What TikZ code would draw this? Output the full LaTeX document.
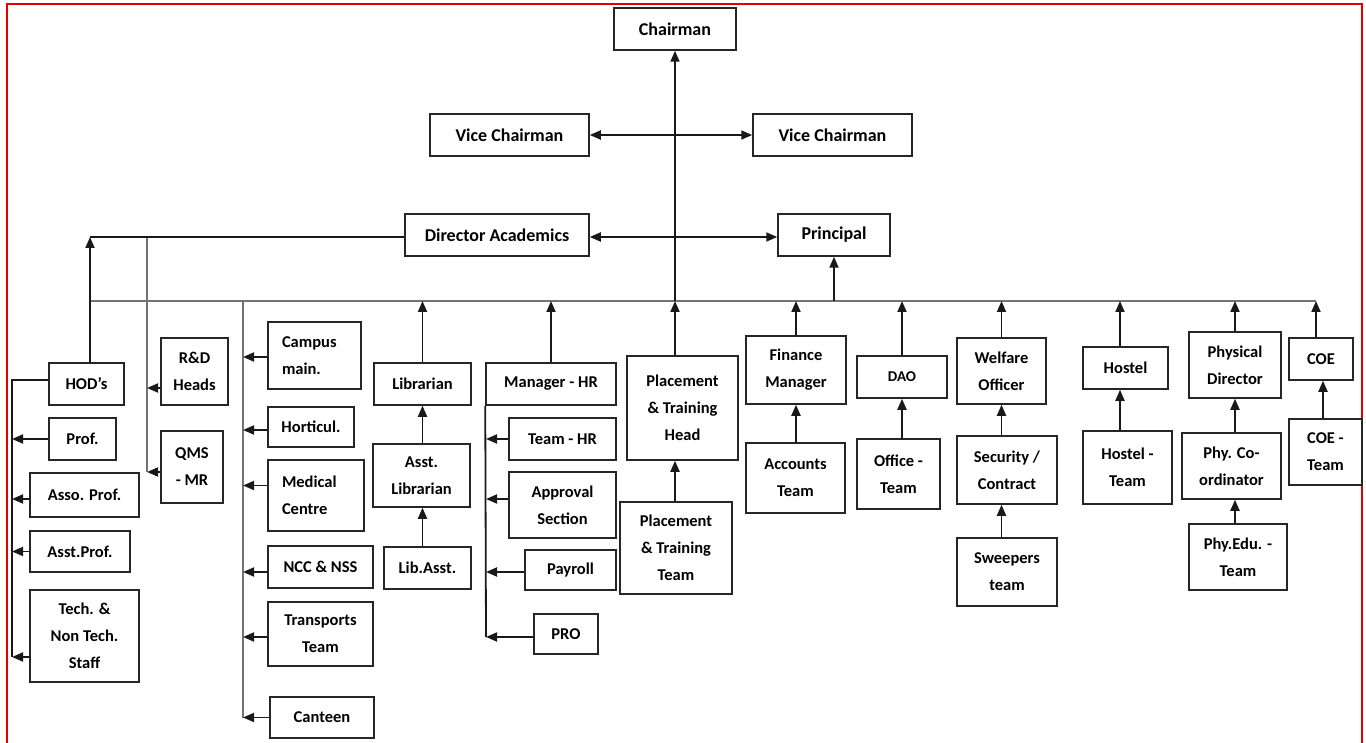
\documentclass[tikz,border=0pt]{standalone}
\usepackage{fontspec}
\setmainfont{Carlito}
\usetikzlibrary{arrows.meta}
\tikzset{
 box/.style={draw=black!85, line width=1.5pt, inner sep=0pt, align=center, fill=white,
   font=\bfseries\fontsize{16.5}{27}\selectfont},
 top/.style={font=\bfseries\fontsize{18}{22}\selectfont},
 conn/.style={line width=1.8pt, draw=black!90},
 arr/.style={conn, -{Triangle[length=11pt,width=9pt]}},
 darr/.style={conn, {Triangle[length=11pt,width=9pt]}-{Triangle[length=11pt,width=9pt]}},
 busline/.style={line width=1.5pt, draw=black!55},
}
\newcommand\bx[7][]{\node[box,minimum width={(#5-#3)*1pt},minimum height={(#6-#4)*1pt},#1] (#2) at ({(#3+#5)/2},{(#4+#6)/2}) {#7};}
\begin{document}
\begin{tikzpicture}[x=1pt,y=-1pt]
\useasboundingbox (0,0) rectangle (1366,743);
\fill[white] (0,0) rectangle (1366,743);
\draw[red!90!black, line width=2pt] (7,750) -- (7,4) -- (1362,4) -- (1362,750);

% coordinates
\coordinate (busL) at (90,301);
\coordinate (busR) at (1316,301);
\coordinate (daL) at (90,237);
\coordinate (v1t) at (147,237);
\coordinate (v1b) at (147,472);
\coordinate (v2t) at (243,301);
\coordinate (v2b) at (243,718);
\coordinate (lbot) at (12,657);
\coordinate (hrb) at (486,637);
\coordinate (hx) at (1120,0);
\coordinate (cx) at (1323,0);

\draw[busline] (busL) -- (busR);
\draw[busline] (v1t) -- (v1b);
\draw[busline] (v2t) -- (v2b);

% top
\bx[top]{chair}{614}{8}{736}{50}{Chairman}
\bx[top]{vcl}{430}{114}{589}{156}{Vice Chairman}
\bx[top]{vcr}{753}{114}{912}{156}{Vice Chairman}
\bx[top]{da}{405}{214}{589}{256}{Director Academics}
\bx[top]{pr}{778}{214}{890}{256}{Principal}

% left
\bx{hod}{49}{363}{124}{405}{HOD’s}
\bx{prof}{49}{418}{116}{460}{Prof.}
\bx{asso}{30}{473}{139}{517}{Asso. Prof.}
\bx{asst}{30}{531}{130}{572}{Asst.Prof.}
\bx{tech}{30}{590}{139}{682}{Tech. \&\\Non Tech.\\Staff}
\bx{rd}{161}{338}{228}{405}{R\&D\\Heads}
\bx{qms}{161}{431}{223}{503}{QMS\\- MR}
\bx[align=left,text width=65pt,inner xsep=14pt]{camp}{268}{322}{361}{389}{Campus\\main.}
\bx{hort}{268}{407}{354}{447}{Horticul.}
\bx[align=left,text width=68pt,inner xsep=14pt]{med}{268}{460}{364}{531}{Medical\\Centre}
\bx{ncc}{268}{546}{373}{588}{NCC \& NSS}
\bx{trans}{268}{602}{373}{666}{Transports\\Team}
\bx{cant}{270}{697}{374}{738}{Canteen}

% library, HR, placement
\bx{lib}{374}{363}{471}{405}{Librarian}
\bx{alib}{373}{444}{470}{507}{Asst.\\Librarian}
\bx{libasst}{384}{547}{471}{589}{Lib.Asst.}
\bx{mhr}{486}{363}{616}{405}{Manager - HR}
\bx{thr}{509}{418}{616}{460}{Team - HR}
\bx{appr}{509}{472}{616}{538}{Approval\\Section}
\bx{pay}{525}{550}{616}{590}{Payroll}
\bx{pro}{534}{614}{598}{654}{PRO}
\bx{pth}{627}{356}{738}{460}{Placement\\\& Training\\Head}
\bx{ptt}{620}{502}{732}{594}{Placement\\\& Training\\Team}

% right
\bx{fm}{746}{336}{846}{404}{Finance\\Manager}
\bx{acc}{746}{443}{845}{513}{Accounts\\Team}
\bx[font=\bfseries\fontsize{15}{20}\selectfont]{dao}{857}{356}{947}{398}{DAO}
\bx{off}{857}{439}{940}{509}{Office -\\Team}
\bx{wel}{957}{338}{1046}{404}{Welfare\\Officer}
\bx{sec}{957}{436}{1057}{504}{Security /\\Contract}
\bx{swp}{957}{538}{1057}{606}{Sweepers\\team}
\bx{hos}{1083}{347}{1168}{389}{Hostel}
\bx{host}{1083}{431}{1172}{504}{Hostel -\\Team}
\bx{pd}{1189}{332}{1281}{398}{Physical\\Director}
\bx{pc}{1182}{433}{1281}{499}{Phy. Co-\\ordinator}
\bx{pe}{1189}{524}{1287}{590}{Phy.Edu. -\\Team}
\bx{coe}{1289}{338}{1353}{380}{COE}
\bx{coet}{1289}{419}{1362}{485}{COE -\\Team}

% top connectors
\draw[arr] (chair.south |- busL) -- (chair.south);
\draw[darr] (vcl.east) -- (vcr.west);
\draw[darr] ([yshift=-2pt]da.east) -- ([yshift=-2pt]da.east -| pr.west);
\draw[arr] (pr.south |- busL) -- (pr.south);
\draw[conn] (da.west |- daL) -- (daL);
\draw[arr] (hod.north -| daL) -- (daL);

% left group
\draw[conn] ([yshift=4pt]hod.west) -| (lbot);
\draw[arr] (prof.west) -- (prof.west -| lbot);
\draw[arr] ([yshift=-4pt]asso.west) -- ([yshift=-4pt]asso.west -| lbot);
\draw[arr] (asst.west) -- (asst.west -| lbot);
\draw[arr] ([yshift=-21pt]tech.west) -- ([yshift=-21pt]tech.west -| lbot);
\draw[arr] ([yshift=-16.5pt]rd.west) -- ([yshift=-16.5pt]rd.west -| v1b);
\draw[arr] ([yshift=-5pt]qms.west) -- ([yshift=-5pt]qms.west -| v1b);

% campus column
\draw[arr] ([yshift=-1.5pt]camp.west) -- ([yshift=-1.5pt]camp.west -| v2b);
\draw[arr] ([yshift=-3pt]hort.west) -- ([yshift=-3pt]hort.west -| v2b);
\draw[arr] ([yshift=10pt]med.west) -- ([yshift=10pt]med.west -| v2b);
\draw[arr] ([yshift=-5pt]ncc.west) -- ([yshift=-5pt]ncc.west -| v2b);
\draw[arr] ([yshift=-3pt]trans.west) -- ([yshift=-3pt]trans.west -| v2b);
\draw[arr] (cant.west) -- (cant.west -| v2b);

% library
\draw[arr] (lib.north) -- (lib.north |- busL);
\draw[arr] (alib.north -| lib.north) -- (lib.south);
\draw[arr] (libasst.north -| lib.north) -- (alib.south -| lib.north);

% HR
\draw[arr] (mhr.north) -- (mhr.north |- busL);
\draw[conn] (mhr.south west) -- (hrb);
\draw[arr] (thr.west) -- (thr.west -| hrb);
\draw[arr] ([yshift=6pt]appr.west) -- ([yshift=6pt]appr.west -| hrb);
\draw[arr] ([yshift=-2pt]pay.west) -- ([yshift=-2pt]pay.west -| hrb);
\draw[arr] ([yshift=-3pt]pro.west) -- ([yshift=-3pt]pro.west -| hrb);

% placement
\draw[arr] (pth.north -| chair.south) -- (busL -| chair.south);
\draw[arr] (ptt.north -| chair.south) -- (pth.south -| chair.south);

% finance, DAO, welfare
\draw[arr] (fm.north) -- (fm.north |- busL);
\draw[arr] (acc.north -| fm.north) -- (fm.south);
\draw[arr] (dao.north) -- (dao.north |- busL);
\draw[arr] (off.north -| dao.north) -- (dao.south);
\draw[arr] (wel.north) -- (wel.north |- busL);
\draw[arr] (sec.north -| wel.north) -- (wel.south);
\draw[arr] (swp.north -| wel.north) -- (sec.south -| wel.north);

% hostel, physical, COE
\draw[arr] (hos.north -| hx) -- (busL -| hx);
\draw[arr] (host.north -| hx) -- (hos.south -| hx);
\draw[arr] (pd.north) -- (pd.north |- busL);
\draw[arr] (pc.north -| pd.north) -- (pd.south);
\draw[arr] (pe.north -| pd.north) -- (pc.south -| pd.north);
\draw[arr] (coe.north -| busR) -- (busR);
\draw[arr] (coet.north -| cx) -- (coe.south -| cx);
\end{tikzpicture}
\end{document}
